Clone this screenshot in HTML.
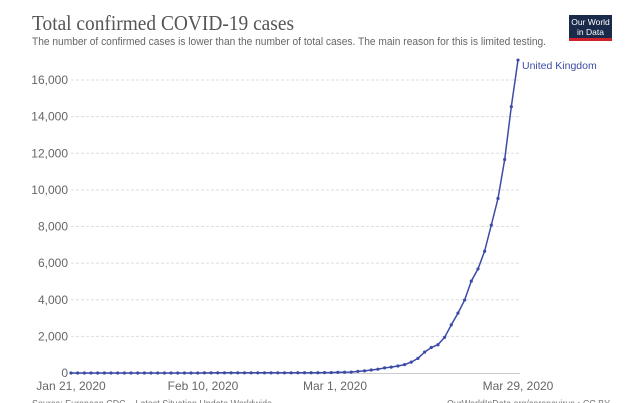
<!DOCTYPE html>
<html><head><meta charset="utf-8"><style>
html,body{margin:0;padding:0;background:#fff;width:633px;height:403px;overflow:hidden;font-family:"Liberation Sans",sans-serif}
</style></head><body>
<svg id="s" width="633" height="403" xmlns="http://www.w3.org/2000/svg">
<text x="32" y="30" font-family="Liberation Serif,serif" font-size="21" fill="#555" textLength="262" lengthAdjust="spacingAndGlyphs">Total confirmed COVID-19 cases</text>
<text x="32" y="45" font-size="11" fill="#666" textLength="514" lengthAdjust="spacingAndGlyphs">The number of confirmed cases is lower than the number of total cases. The main reason for this is limited testing.</text>
<rect x="569" y="15" width="43" height="23" fill="#1a2a4a"/>
<rect x="569" y="38" width="43" height="3" fill="#d0202e"/>
<text x="590.5" y="25" font-size="8.5" fill="#fff" text-anchor="middle">Our World</text>
<text x="590.5" y="35" font-size="8.5" fill="#fff" text-anchor="middle">in Data</text>
<g id="grid" stroke="#ddd" stroke-dasharray="3,2" stroke-width="1"></g>
<line x1="71" y1="373.5" x2="520" y2="373.5" stroke="#ccc"/>
<g id="ylab" font-size="12" fill="#666" text-anchor="end"></g>
<g font-size="12" fill="#666" text-anchor="middle">
<text x="71" y="390">Jan 21, 2020</text>
<text x="203" y="390">Feb 10, 2020</text>
<text x="335" y="390">Mar 1, 2020</text>
<text x="518" y="390">Mar 29, 2020</text>
</g>
<text x="32" y="407" font-size="10" fill="#777" textLength="240" lengthAdjust="spacingAndGlyphs">Source: European CDC – Latest Situation Update Worldwide</text>
<text x="447" y="407" font-size="10" fill="#777" textLength="163" lengthAdjust="spacingAndGlyphs">OurWorldInData.org/coronavirus • CC BY</text>
<polyline id="ln" fill="none" stroke="#3c4ba6" stroke-width="1.5"/>
<g id="pts" fill="#3c4ba6"></g>
<text x="522" y="69" font-size="10.5" fill="#3c4ba6">United Kingdom</text>
</svg>
<script>
var NS="http://www.w3.org/2000/svg";
function Y(v){return 373-v*293/16000;}
var g=document.getElementById('grid'),yl=document.getElementById('ylab');
for(var v=0;v<=16000;v+=2000){var y=Y(v);
 if(v>0){var l=document.createElementNS(NS,'line');l.setAttribute('x1',71);l.setAttribute('x2',520);l.setAttribute('y1',y);l.setAttribute('y2',y);g.appendChild(l);}
 var t=document.createElementNS(NS,'text');t.setAttribute('x',68);t.setAttribute('y',y+4);t.textContent=v.toLocaleString('en-US');yl.appendChild(t);}
var d=[];
for(var i=0;i<10;i++)d.push(0);
for(i=0;i<10;i++)d.push(2);
var feb=[8,8,9,9,9,9,9,9,9,9,9,9,9,9,13,13,13,15,20,23];
d=d.concat(feb);
d=d.concat([36,40,51,87,116,164,209,278,321,383,460,594,797,1140,1391,1543,1950,2626,3269,3983,5018,5683,6650,8077,9529,11658,14543,17089]);
var n=d.length,pts=[],pg=document.getElementById('pts');
for(i=0;i<n;i++){var x=71+(518-71)*i/(n-1),y=Y(d[i]);pts.push(x.toFixed(1)+','+y.toFixed(1));
 var c=document.createElementNS(NS,'circle');c.setAttribute('cx',x);c.setAttribute('cy',y);c.setAttribute('r',1.6);pg.appendChild(c);}
document.getElementById('ln').setAttribute('points',pts.join(' '));
</script>
</body></html>
